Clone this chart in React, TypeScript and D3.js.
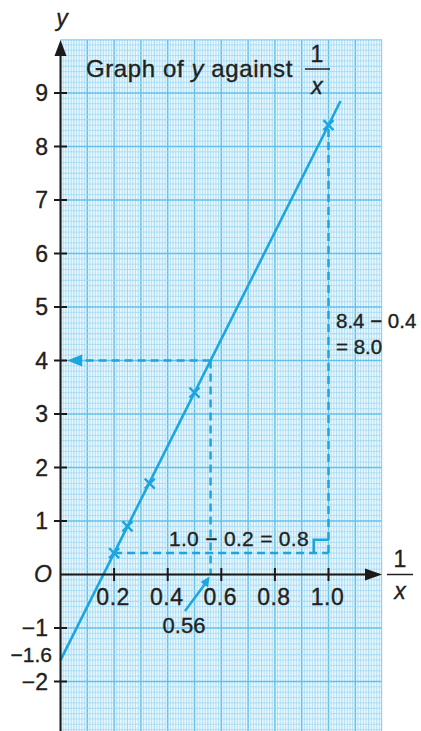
import React from 'react';
import * as d3 from 'd3';

// readings
const pointX = [0.2, 0.25, 0.333, 0.5, 1.0];
const pointY = [0.4, 0.9, 1.7, 3.4, 8.4];
const lineX = [0, 1.045];
const lineY = [-1.6, 8.85];
const xTicks = [0.2, 0.4, 0.6, 0.8, 1.0];
const xTickLabels = ['0.2', '0.4', '0.6', '0.8', '1.0'];
const yTicks = [-2, -1, 1, 2, 3, 4, 5, 6, 7, 8, 9];
const yTickLabels = ['−2', '−1', '1', '2', '3', '4', '5', '6', '7', '8', '9'];
const readY = 4;
const readX = 0.56;

const W = 421;
const H = 731;
const BLUE = '#1ba6df';
const INK = '#231f20';
const FONT = '"Liberation Sans", Arial, Helvetica, sans-serif';

export default function App() {
  const x = d3.scaleLinear().domain([0, 1]).range([60.5, 328.5]);
  const y = d3.scaleLinear().domain([0, 1]).range([574.5, 521]);

  const gx0 = 0, gx1 = 1.2, gy0 = -3, gy1 = 10;

  // grid lines
  const minorX = d3.range(0, 121).map(i => i / 100);
  const minorY = d3.range(-30, 101).map(i => i / 10);

  const line = d3.line<number>()
    .x((_, i) => x(lineX[i]))
    .y(d => y(d));

  const dash = '8,5';

  const px = x(readX);
  const py = y(readY);

  return (
    <div style={{ position: 'fixed', left: 0, top: 0 }}>
      <svg width={W} height={H} style={{ display: 'block', background: '#fff' }}>
        <defs>
          <clipPath id="grid-clip">
            <rect x={x(gx0)} y={y(gy1)} width={x(gx1) - x(gx0)} height={y(gy0) - y(gy1)} />
          </clipPath>
        </defs>

        {/* graph paper */}
        <g clipPath="url(#grid-clip)">
          <rect x={x(gx0)} y={y(gy1)} width={x(gx1) - x(gx0)} height={y(gy0) - y(gy1)} fill="#eaf7fd" />
          {minorX.map((v, i) => {
            const major = i % 10 === 0;
            const mid = i % 5 === 0;
            return (
              <line key={'mx' + i} x1={x(v)} x2={x(v)} y1={y(gy1)} y2={y(gy0)}
                stroke={major ? '#62c1ea' : '#9fd8f2'}
                strokeWidth={major ? 1.5 : mid ? 1 : 0.75} />
            );
          })}
          {minorY.map((v, i) => {
            const major = i % 10 === 0;
            const mid = i % 5 === 0;
            return (
              <line key={'my' + i} x1={x(gx0)} x2={x(gx1)} y1={y(v)} y2={y(v)}
                stroke={major ? '#62c1ea' : '#9fd8f2'}
                strokeWidth={major ? 1.5 : mid ? 1 : 0.75} />
            );
          })}
          <rect x={x(gx0)} y={y(gy1)} width={x(gx1) - x(gx0)} height={y(gy0) - y(gy1)}
            fill="none" stroke="#8fd3f0" strokeWidth={1.5} />
        </g>

        {/* construction lines */}
        <g stroke={BLUE} strokeWidth={2.5} fill="none">
          <line x1={x(pointX[0])} x2={x(1.0)} y1={y(pointY[0])} y2={y(pointY[0])} strokeDasharray={dash} />
          <line x1={x(1.0)} x2={x(1.0)} y1={y(pointY[0])} y2={y(pointY[4])} strokeDasharray={dash} />
          <path d={`M${x(1.0)},${y(0.65)} H${x(0.945)} V${y(pointY[0])}`} />
          <line x1={px} x2={x(0.055)} y1={py} y2={py} strokeDasharray={dash} />
          <line x1={px} x2={px} y1={py} y2={y(0)} strokeDasharray={dash} />
        </g>
        {/* arrowhead to y axis at y = 4 */}
        <path d={`M${x(0.025)},${py} l15,-6 v12 z`} fill={BLUE} />

        {/* 0.56 pointer */}
        <line x1={185} y1={611} x2={px - 3} y2={y(0) + 6} stroke={BLUE} strokeWidth={2.5} />
        <path d={`M${px - 1},${y(0) + 2} l-1.5,11 l-7.5,-5.5 z`} fill={BLUE} />

        {/* best-fit line */}
        <path d={line(lineY) ?? ''} fill="none" stroke={BLUE} strokeWidth={2.6} />

        {/* plotted points */}
        <g stroke={BLUE} strokeWidth={2.4}>
          {pointX.map((v, i) => (
            <g key={'p' + i} transform={`translate(${x(v)},${y(pointY[i])})`}>
              <line x1={-5} y1={-5} x2={5} y2={5} />
              <line x1={-5} y1={5} x2={5} y2={-5} />
            </g>
          ))}
        </g>

        {/* axes */}
        <g stroke="#1a1a1a" strokeWidth={2}>
          <line x1={x(0)} x2={x(0)} y1={H} y2={52} />
          <line x1={x(0)} x2={368} y1={y(0)} y2={y(0)} />
          {yTicks.map(t => (
            <line key={'yt' + t} x1={x(0) - 6.5} x2={x(0) + 6.5} y1={y(t)} y2={y(t)} />
          ))}
          {xTicks.map(t => (
            <line key={'xt' + t} x1={x(t)} x2={x(t)} y1={y(0) - 6.5} y2={y(0) + 6.5} />
          ))}
        </g>
        <path d={`M${x(0)},40 l-6,16 h12 z`} fill="#1a1a1a" />
        <path d={`M382,${y(0)} l-17,-6 v12 z`} fill="#1a1a1a" />

        <g fontFamily={FONT} fill={INK} stroke={INK} strokeWidth={0.35}>
          {/* tick labels */}
          {yTicks.map((t, i) => (
            <text key={'yl' + t} x={48} y={y(t) + 8} textAnchor="end" fontSize={23}>{yTickLabels[i]}</text>
          ))}
          <text x={52} y={y(-1.6) + 1.5} textAnchor="end" fontSize={21}>−1.6</text>
          {xTicks.map((t, i) => (
            <text key={'xl' + t} x={x(t) - 1} y={605} textAnchor="middle" fontSize={23} letterSpacing={0.5}>
              {xTickLabels[i]}
            </text>
          ))}
          <text x={43} y={582} textAnchor="middle" fontSize={23} fontStyle="italic">O</text>
          <text x={184} y={633} textAnchor="middle" fontSize={22}>0.56</text>

          {/* axis titles */}
          <text x={62} y={26} textAnchor="middle" fontSize={23} fontStyle="italic">y</text>
          <text x={400} y={567} textAnchor="middle" fontSize={23}>1</text>
          <text x={400} y={599} textAnchor="middle" fontSize={23} fontStyle="italic">x</text>

          {/* title */}
          <text x={86} y={77} fontSize={24} letterSpacing={0.6}>
            Graph of <tspan fontStyle="italic">y</tspan> against
          </text>
          <text x={317} y={62} textAnchor="middle" fontSize={23}>1</text>
          <text x={317} y={94} textAnchor="middle" fontSize={23} fontStyle="italic">x</text>

          {/* difference annotations */}
          <text x={169} y={546} fontSize={21} letterSpacing={0.3}>1.0 − 0.2 = 0.8</text>
          <text x={336} y={328} fontSize={20.5}>8.4 − 0.4</text>
          <text x={336} y={354} fontSize={20.5}>= 8.0</text>
        </g>
        <line x1={387} x2={413} y1={y(0)} y2={y(0)} stroke={INK} strokeWidth={1.5} />
        <line x1={305} x2={330} y1={69} y2={69} stroke={INK} strokeWidth={1.5} />
      </svg>
    </div>
  );
}
